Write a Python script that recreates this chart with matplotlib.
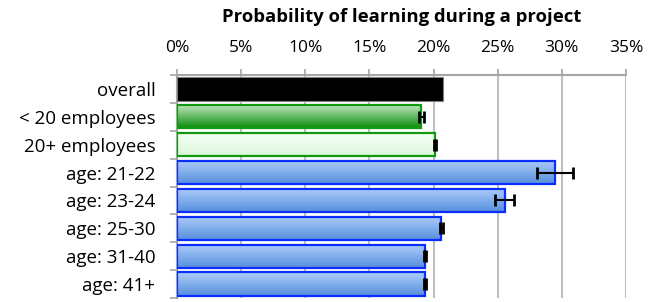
import matplotlib
matplotlib.use('Agg')
import matplotlib.pyplot as plt
import numpy as np
from matplotlib.colors import LinearSegmentedColormap

# Data
categories = ['overall', '< 20 employees', '20+ employees', 'age: 21-22',
              'age: 23-24', 'age: 25-30', 'age: 31-40', 'age: 41+']
values = [20.7, 19.05, 20.1, 29.5, 25.55, 20.6, 19.35, 19.35]
errors = [0.0, 0.2, 0.08, 1.4, 0.75, 0.12, 0.08, 0.08]
groups = ['black', 'green', 'lightgreen', 'blue', 'blue', 'blue', 'blue', 'blue']
xticks = [0, 5, 10, 15, 20, 25, 30, 35]

styles = {
    'black': (('#000000', '#000000'), '#7f7f7f'),
    'green': (('#c4eac4', '#0c8c0c'), '#109a10'),
    'lightgreen': (('#f6fff6', '#dcf6dc'), '#109a10'),
    'blue': (('#aecdfb', '#5690dc'), '#0a2eff'),
}

plt.rcParams['font.family'] = ['Open Sans', 'DejaVu Sans']

fig = plt.figure(figsize=(6.6, 3.02), dpi=100)
ax = fig.add_axes([177 / 660, 4 / 302, 449 / 660, 223 / 302])

y = np.arange(len(categories))
bars = ax.barh(y, values, height=0.83, color='none', zorder=3)

grad = np.linspace(0, 1, 64).reshape(-1, 1)
for bar, g in zip(bars, groups):
    (top, bottom), edge = styles[g]
    cmap = LinearSegmentedColormap.from_list(g, [top, bottom])
    x0, y0 = bar.get_x(), bar.get_y()
    w, h = bar.get_width(), bar.get_height()
    im = ax.imshow(grad, cmap=cmap, aspect='auto', zorder=3,
                   extent=[x0, x0 + w, y0 + h, y0], origin='upper')
    im.set_clip_path(bar)
    bar.set_edgecolor(edge)
    bar.set_linewidth(1.6 if g != 'black' else 0.8)
    bar.set_zorder(4)

# error bars only where there is an interval
has_err = [e > 0 for e in errors]
ax.errorbar([v for v, k in zip(values, has_err) if k],
            [yy for yy, k in zip(y, has_err) if k],
            xerr=[e for e, k in zip(errors, has_err) if k],
            fmt='none', ecolor='black', elinewidth=1.5, capsize=4,
            capthick=2, zorder=5)

ax.set_xlim(0, 35)
ax.set_ylim(len(categories) - 0.5, -0.5)
ax.set_xticks(xticks)
ax.set_xticklabels([f'{t}%' for t in xticks])
ax.xaxis.tick_top()
ax.tick_params(axis='x', direction='out', length=4, width=1.2, color='#a6a6a6',
               labelsize=12.5, pad=10)
ax.set_yticks(y)
ax.set_yticklabels(categories)
ax.set_yticks(np.arange(-0.5, len(categories)), minor=True)
ax.tick_params(axis='y', which='major', length=0, labelsize=13.5, pad=15.5)
ax.tick_params(axis='y', which='minor', direction='out', length=5, width=1.2,
               color='#a6a6a6')
ax.grid(axis='x', color='#bfbfbf', linewidth=1.5, zorder=0)
ax.set_axisbelow(True)

for s in ['right', 'bottom']:
    ax.spines[s].set_visible(False)
for s in ['top', 'left']:
    ax.spines[s].set_color('#a6a6a6')
    ax.spines[s].set_linewidth(1.5)

fig.text((177 + 626) / 2 / 660, 1 - 17 / 302, 'Probability of learning during a project',
         ha='center', va='center', fontsize=13.3, fontweight='bold')

fig.savefig('out.png', dpi=100)
